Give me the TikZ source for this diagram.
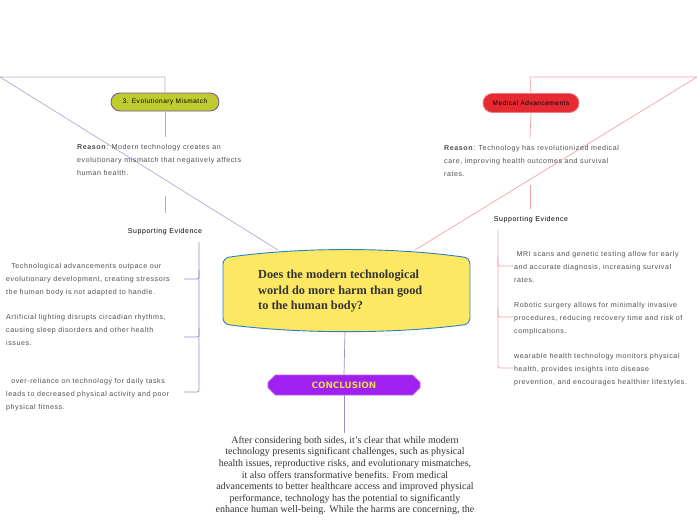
\documentclass[tikz,border=0pt]{standalone}
\usepackage{fontspec}
\setmainfont{Liberation Serif}
\newfontfamily\hand[LetterSpace=8]{Liberation Sans}
\newfontfamily\boldsans{DejaVu Sans}
\usetikzlibrary{shapes.misc,shapes.geometric}
\definecolor{lavline}{HTML}{B4A8D6}
\definecolor{lavdark}{HTML}{A08CC8}
\definecolor{pinkline}{HTML}{F5A3AA}
\definecolor{greenfill}{HTML}{BFCC30}
\definecolor{greenborder}{HTML}{7A509A}
\definecolor{redfill}{HTML}{E62A32}
\definecolor{redborder}{HTML}{F07A80}
\definecolor{yellowfill}{HTML}{FDE863}
\definecolor{blueborder}{HTML}{2A80C6}
\definecolor{purplefill}{HTML}{A020F0}
\definecolor{conctext}{HTML}{E8D84A}
\definecolor{handgray}{HTML}{505050}
\definecolor{darktext}{HTML}{333333}
\tikzset{
  handtext/.style={font=\hand\fontsize{7.1}{13.1}\selectfont, text=handgray, align=left, inner sep=0pt, anchor=north west},
  topic/.style={rounded rectangle, draw, line width=0.8pt, minimum height=18pt, inner sep=2pt, font=\hand\fontsize{6.5}{8}\selectfont, text=black},
  label/.style={font=\hand\fontsize{7}{8}\selectfont, text=black, inner sep=1pt},
  purpline/.style={draw=lavline, line width=0.7pt},
  pinkln/.style={draw=pinkline, line width=0.7pt},
}
\begin{document}
\begin{tikzpicture}[x=1pt,y=-1pt]
\useasboundingbox[fill=white] (0,0) rectangle (697,520);

% central node shape
\draw[fill=yellowfill, draw=blueborder, line width=0.9pt, rounded corners=6pt]
  (223,258) .. controls (300,247) and (393,247) .. (470,258) -- (470,324)
  .. controls (393,334) and (300,334) .. (223,324) -- cycle;
\node[font=\bfseries\fontsize{12.3}{15.5}\selectfont, text=darktext, align=left, anchor=north west, inner sep=0pt] (central) at (258,270)
  {Does the modern technological\\world do more harm than good\\to the human body?};
\coordinate (cTL) at (278,250);
\coordinate (cTR) at (415,250);
\coordinate (cB) at (345,332);

% topic nodes
\node[topic, fill=greenfill, draw=greenborder, minimum width=112pt] (green) at (165,102) {3. Evolutionary Mismatch};
\node[topic, fill=redfill, draw=redborder, minimum width=100pt, minimum height=19pt] (red) at (531,103) {Medical Advancements};

% left frame connector
\coordinate (lc) at (0,77);
\coordinate (lt) at (165,77);
\draw[purpline] (cTL) -- (lc) -- (lt) -- (green.north);
% right frame connector
\coordinate (rc) at (697,77);
\coordinate (rt) at (530,77);
\draw[pinkln] (cTR) -- (rc) -- (rt) -- (red.north);

% reasons
\node[handtext] (reasonL) at (77,144) {\textbf{Reason}: Modern technology creates an\\evolutionary mismatch that negatively affects\\human health.};
\node[handtext] (reasonR) at (444,145) {\textbf{Reason}: Technology has revolutionized medical\\care, improving health outcomes and survival\\rates.};
\coordinate (gEnd) at (165,137);
\coordinate (rEnd) at (530,138);
\draw[purpline] (green.south) -- (gEnd);
\draw[pinkln] (red.south) -- (rEnd);

% supporting evidence labels
\node[label] (seL) at (165,232) {Supporting Evidence};
\node[label] (seR) at (531,220) {Supporting Evidence};
\coordinate (seLtop) at (165,196);
\coordinate (seRtop) at (530,185);
\draw[purpline] (seLtop) -- (165,213);
\draw[pinkln] (seRtop) -- (530,209);

% left bracket
\draw[draw=lavdark, line width=0.8pt, rounded corners=2pt] (199,242) -- (199,392) -- (184,392);
\draw[draw=lavdark, line width=0.8pt, rounded corners=2pt] (199,270) -- (199,279) -- (184,279);
\draw[draw=lavdark, line width=0.8pt, rounded corners=2pt] (199,328) -- (199,337) -- (184,337);

% right bracket
\draw[pinkln, line width=0.8pt, rounded corners=2pt] (498,230) -- (498,368) -- (513,368);
\draw[pinkln, line width=0.8pt, rounded corners=2pt] (498,257) -- (498,266) -- (513,266);
\draw[pinkln, line width=0.8pt, rounded corners=2pt] (498,308) -- (498,317) -- (513,317);

% left evidence
\node[handtext] (evL1) at (6,263) {\ \ Technological advancements outpace our\\evolutionary development, creating stressors\\the human body is not adapted to handle.};
\node[handtext] (evL2) at (6,314) {Artificial lighting disrupts circadian rhythms,\\causing sleep disorders and other health\\issues.};
\node[handtext] (evL3) at (6,378) {\ \ over-reliance on technology for daily tasks\\leads to decreased physical activity and poor\\physical fitness.};

% right evidence
\node[handtext] (evR1) at (514,251) {\ MRI scans and genetic testing allow for early\\and accurate diagnosis, increasing survival\\rates.};
\node[handtext] (evR2) at (514,302) {Robotic surgery allows for minimally invasive\\procedures, reducing recovery time and risk of\\complications.};
\node[handtext] (evR3) at (514,353) {wearable health technology monitors physical\\health, provides insights into disease\\prevention, and encourages healthier lifestyles.};

% conclusion
\node[chamfered rectangle, chamfered rectangle xsep=8pt, chamfered rectangle corners={north west,south west,north east,south east}, fill=purplefill, draw=purplefill!70!white, line width=0.6pt, minimum width=152pt, minimum height=20pt, inner sep=1pt, font=\boldsans\bfseries\fontsize{8.8}{10}\selectfont, text=conctext] (conc) at (344,385) {CONCLUSION};
\draw[purpline, draw=lavdark] (cB) -- (conc.north);
\coordinate (concEnd) at (344,433);
\draw[purpline, draw=lavdark] (conc.south) -- (concEnd);

\begin{scope}
\clip (0,0) rectangle (697,520);
\node[font=\fontsize{10}{11.6}\selectfont, text=darktext, align=center, anchor=north, inner sep=0pt] (conctxt) at (345,436)
  {After considering both sides, it's clear that while modern\\technology presents significant challenges, such as physical\\health issues, reproductive risks, and evolutionary mismatches,\\it also offers transformative benefits. From medical\\advancements to better healthcare access and improved physical\\performance, technology has the potential to significantly\\enhance human well-being. While the harms are concerning, the};
\end{scope}
\end{tikzpicture}
\end{document}
